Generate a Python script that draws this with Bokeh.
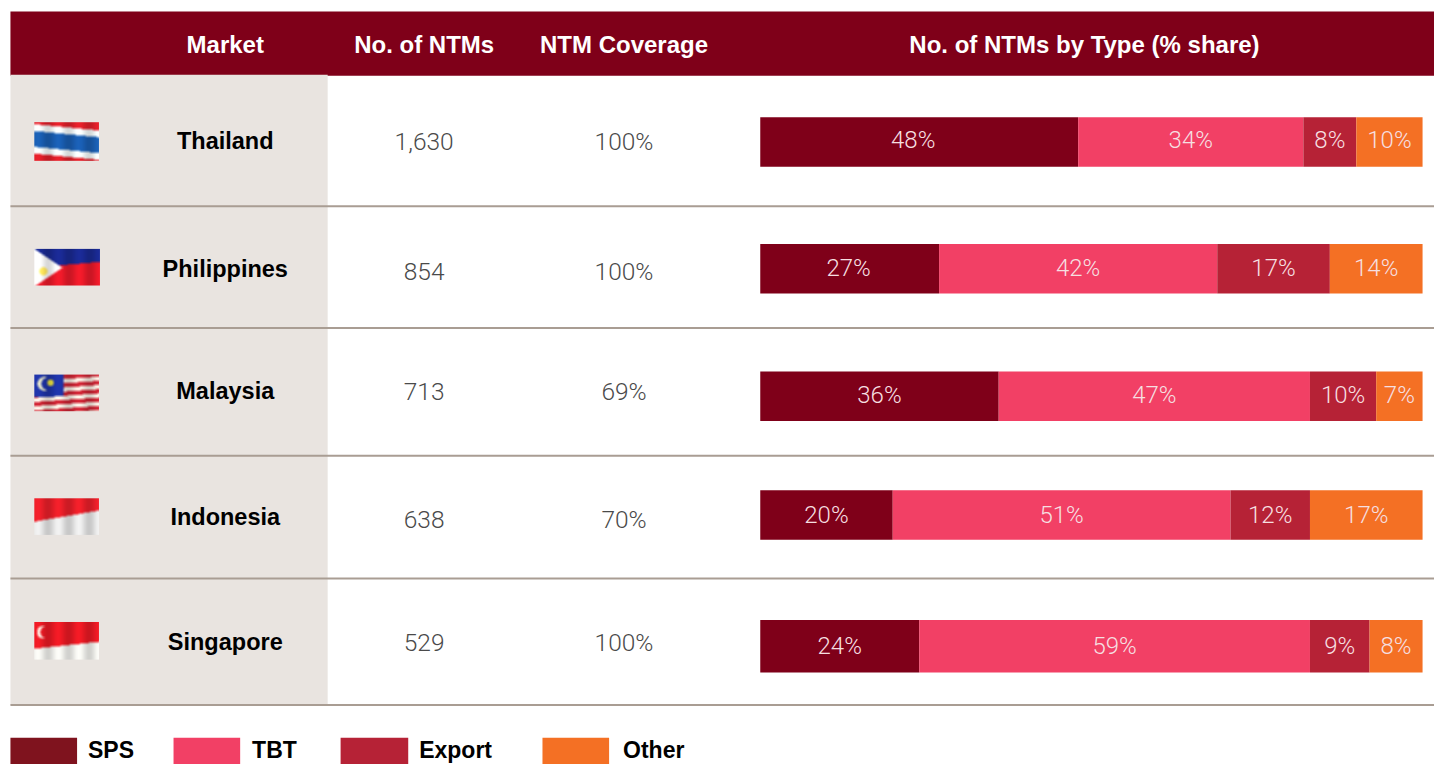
import numpy as np
from bokeh.plotting import figure
from bokeh.models import Range1d
from bokeh.core.properties import value
from bokeh.embed import file_html
from bokeh.resources import INLINE

# ---- data
markets = ["Thailand", "Philippines", "Malaysia", "Indonesia", "Singapore"]
ntm_counts = [1630, 854, 713, 638, 529]
coverage = [100, 100, 69, 70, 100]
sps = [48, 27, 36, 20, 24]
tbt = [34, 42, 47, 51, 59]
export = [8, 17, 10, 12, 9]
other = [10, 14, 7, 17, 8]
series_names = ["SPS", "TBT", "Export", "Other"]
columns = ["Market", "No. of NTMs", "NTM Coverage", "No. of NTMs by Type (% share)"]

# ---- layout and style
MAROON, PINK, RED, ORANGE = "#7f0019", "#f24065", "#b62236", "#f47024"
bar_colors = [MAROON, PINK, RED, ORANGE]
legend_colors = ["#7f131e", PINK, RED, ORANGE]
PANEL, RULE = "#e9e4e0", "#a99d93"
BOLD = value("Liberation Sans")
LIGHT = value("Roboto Light")
rule_y = [208, 331, 460, 584, 712]
bar_top = [118, 246, 375, 495, 626]
bar_bottom = [168, 296, 425, 545, 679]
label_y = [141, 270, 399, 520, 652]
name_y = [142, 271, 395, 522, 648]
count_y = [142, 274, 395, 524, 649]
cover_y = [142, 274, 395, 524, 649]
flag_box = [(34, 123, 65, 39), (34, 251, 66, 37), (34, 378, 65, 37), (34, 503, 65, 37), (34, 628, 65, 38)]
head_x = [226, 426, 627, 1090]
legend_left = [10, 174, 342, 545]
legend_right = [77, 241, 410, 612]
legend_text_x = [88, 253, 421, 626]
sps_label_shift = [-6, -1, 0, 0, 0]

p = figure(x_range=Range1d(0, 1442), y_range=Range1d(772, 0), width=1434, height=764,
           output_backend="svg", toolbar_location=None, min_border=0,
           x_axis_location=None, y_axis_location=None, outline_line_color=None,
           border_fill_color=None, background_fill_color="white")
p.grid.visible = False
x_per_pct = (1430 - 764) / 100
p.extra_x_ranges["share"] = Range1d(-764 / x_per_pct, 100 + (1442 - 1430) / x_per_pct)

# header band and left panel
p.quad(left=[10], right=[1442], top=[11], bottom=[76], fill_color=MAROON, line_color=None)
p.quad(left=[10], right=[329], top=[75], bottom=[712], fill_color=PANEL, line_color=None)
p.text(x=head_x, y=[44] * 4, text=columns, text_font=BOLD, text_font_style="bold", text_font_size="24px",
       text_color="white", text_align="center", text_baseline="middle")
p.segment(x0=[10] * 5, x1=[1442] * 5, y0=rule_y, y1=rule_y, line_color=RULE, line_width=2)

# rows
p.text(x=[226] * 5, y=name_y, text=markets, text_font=BOLD, text_font_style="bold", text_font_size="23.5px",
       text_color="#000000", text_align="center", text_baseline="middle")
p.text(x=[426] * 5, y=count_y, text=[f"{v:,}" for v in ntm_counts], text_font=LIGHT, text_font_size="24.5px",
       text_color="#4a4a4a", text_align="center", text_baseline="middle")
p.text(x=[627] * 5, y=cover_y, text=[f"{v}%" for v in coverage], text_font=LIGHT, text_font_size="24.5px",
       text_color="#4a4a4a", text_align="center", text_baseline="middle")

# stacked bars through the share scale
start = np.zeros(5)
for i, (vals, col) in enumerate(zip([sps, tbt, export, other], bar_colors)):
    vals = np.array(vals, dtype=float)
    p.quad(left=start, right=start + vals, top=bar_top, bottom=bar_bottom, fill_color=col,
           line_color=None, x_range_name="share")
    p.text(x=start + vals / 2, y=label_y, x_offset=sps_label_shift if i == 0 else 0,
           text=[f"{int(v)}%" for v in vals], text_font=LIGHT,
           text_font_size="24px", text_color="#f6dfe0", text_align="center", text_baseline="middle",
           x_range_name="share")
    start = start + vals

# legend
p.quad(left=legend_left, right=legend_right, top=[745] * 4, bottom=[772] * 4,
       fill_color=legend_colors, line_color=None)
p.text(x=legend_text_x, y=[757] * 4, text=series_names, text_font=BOLD, text_font_style="bold",
       text_font_size="23px", text_color="#000000", text_align="left", text_baseline="middle")


# ---- small decorative waved flags
def shade(w, h, tilt):
    yy, xx = np.mgrid[0:h, 0:w]
    u = (xx + .5) / w
    v = (yy + .5) / h - tilt * (u - .5)
    light = 1 + .10 * np.sin(u * 2 * np.pi * 3.2 + .5)
    return u, v, light


def paint(img, mask, c):
    img[mask] = c


def flag(name, w, h):
    img = np.zeros((h, w, 3), dtype=float)
    yy = ((np.arange(h) + .5) / h)[:, None]
    if name == "Thailand":
        u, v, l = shade(w, h, .16)
        paint(img, np.ones((h, w), bool), (215, 30, 40))
        paint(img, (v > .13) & (v < .87), (235, 240, 240))
        paint(img, (v > .3) & (v < .7), (25, 90, 170))
    elif name == "Philippines":
        u, v, l = shade(w, h, -.16)
        paint(img, v < .42, (25, 40, 140))
        paint(img, v >= .42, (225, 25, 40))
        tri = u < (.42 * (1 - np.abs(yy - .5) * 2))
        paint(img, tri, (240, 240, 240))
        paint(img, (u * w - 9) ** 2 + (yy * h - 22) ** 2 < 18, (250, 225, 90))
    elif name == "Malaysia":
        u, v, l = shade(w, h, -.12)
        paint(img, np.ones((h, w), bool), (235, 225, 215))
        paint(img, (np.floor(v * 9) % 2) == 0, (195, 35, 50))
        paint(img, (u < .45) & (yy + .06 * u < .6), (30, 50, 160))
        xp, yp = u * w, yy * h
        paint(img, ((xp - 10) ** 2 + (yp - 9) ** 2 < 45) & ((xp - 13) ** 2 + (yp - 9) ** 2 > 35), (215, 215, 190))
        paint(img, (xp - 16) ** 2 + (yp - 8) ** 2 < 12, (225, 215, 60))
    elif name == "Indonesia":
        u, v, l = shade(w, h, -.3)
        paint(img, v < .47, (225, 30, 40))
        paint(img, v >= .47, (222, 222, 222))
    else:
        u, v, l = shade(w, h, -.18)
        paint(img, v < .6, (225, 25, 35))
        paint(img, v >= .6, (232, 232, 228))
        xp, yp = u * w, yy * h
        paint(img, ((xp - 9) ** 2 + (yp - 10) ** 2 < 42) & ((xp - 12) ** 2 + (yp - 10) ** 2 > 36), (240, 225, 215))
    img = img * l[..., None]
    # soften like a low-resolution picture
    k = np.pad(img, ((1, 1), (1, 1), (0, 0)), mode="edge")
    img = sum(k[a:a + h, b:b + w] for a in range(3) for b in range(3)) / 9
    img = np.clip(img, 0, 255).astype(np.uint8)
    out = np.zeros((h, w), dtype=np.uint32)
    view = out.view(dtype=np.uint8).reshape((h, w, 4))
    view[..., :3] = img
    view[..., 3] = 255
    return out


for m, (fx, fy, fw, fh) in zip(markets, flag_box):
    p.image_rgba(image=[flag(m, fw, fh)], x=[fx], y=[fy], dw=[fw], dh=[fh])

open("out.html", "w").write(file_html(p, INLINE))
